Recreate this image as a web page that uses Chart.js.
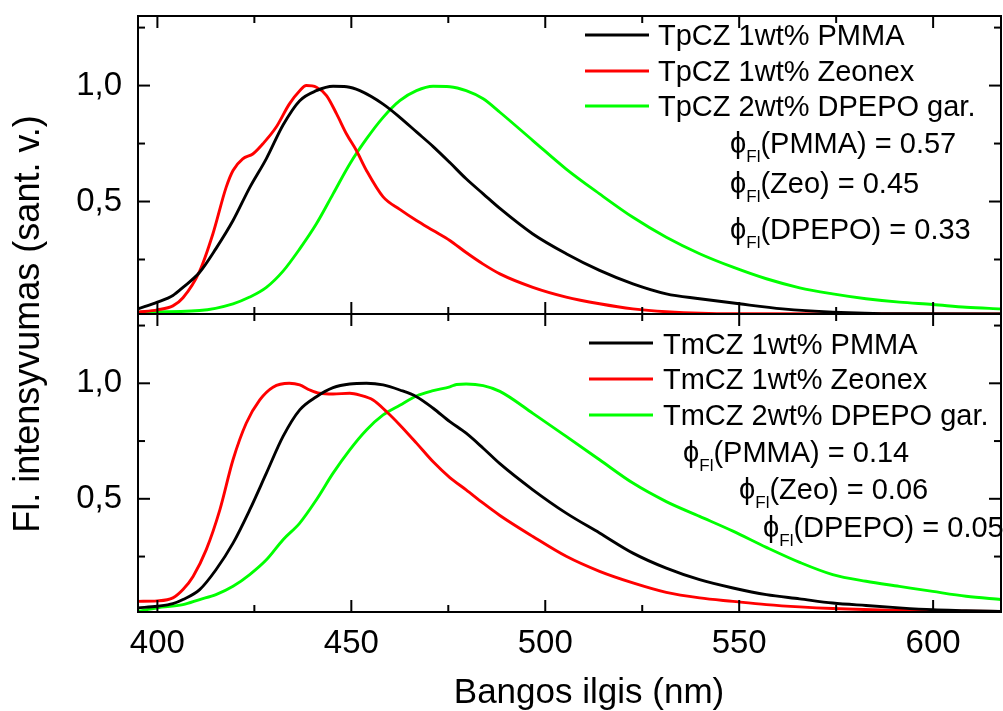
<!DOCTYPE html>
<html>
<head>
<meta charset="utf-8">
<script src="https://cdn.jsdelivr.net/npm/chart.js@4.4.1/dist/chart.umd.min.js"></script>
<style>
html,body{margin:0;padding:0;background:#fff;}
#wrap{position:relative;width:1003px;height:711px;}
</style>
</head>
<body>
<div id="wrap"><canvas id="c" width="1003" height="711"></canvas></div>
<script>
// ---- Data ----
// Top panel: TpCZ
const tpPmmaWl = [395,400,404,406.6,410.9,415.1,419.5,423.8,428.1,432.4,436.7,441,445.3,448.8,452.2,458.2,462.5,466.8,471.1,475.4,479.6,484,488.3,496.8,505.4,514,522.6,531.2,539.8,550,561.2,574.1,591.3,617.5];
const tpPmmaI  = [0.037,0.066,0.095,0.13,0.195,0.297,0.418,0.56,0.685,0.83,0.935,0.978,0.997,0.995,0.978,0.92,0.863,0.80,0.737,0.668,0.598,0.533,0.47,0.36,0.275,0.203,0.145,0.102,0.081,0.059,0.037,0.023,0.016,0.015];
const tpZeoWl  = [395,400,404,406.6,410.9,414.3,417.7,419.5,422,424.6,427.2,430.6,434,436.7,438.4,441,443.6,446.2,448.8,451.3,453.9,458.2,462.5,466.8,471.1,475.4,479.6,484,488.3,496.8,505.4,514,522.6,531.2,548.4,617.5];
const tpZeoI   = [0.023,0.033,0.05,0.085,0.2,0.36,0.56,0.634,0.684,0.705,0.749,0.82,0.92,0.978,1.0,0.993,0.957,0.878,0.79,0.72,0.634,0.52,0.466,0.418,0.375,0.332,0.28,0.23,0.188,0.13,0.088,0.059,0.037,0.025,0.016,0.015];
const tpDpWl   = [395,410.9,419.5,423.8,428.1,432.4,436.7,441,445.3,449.6,453.9,458.2,462.5,466.8,471.1,475.4,479.6,484,488.3,496.8,505.4,514,522.6,531.2,539.8,548.4,557,565.6,574.1,582.7,591.3,599.9,608.5,617.5];
const tpDpI    = [0.023,0.03,0.059,0.088,0.13,0.2,0.296,0.404,0.533,0.662,0.77,0.863,0.935,0.978,0.997,0.995,0.978,0.943,0.885,0.763,0.64,0.533,0.432,0.346,0.275,0.217,0.167,0.128,0.102,0.081,0.066,0.056,0.044,0.037];
// Bottom panel: TmCZ
const tmPmmaWl = [395,400,404,406.6,410.9,415.1,419.5,423.8,428.1,432.4,436.7,441,445.3,449.6,453.9,458.2,462.5,466.8,471.1,475.4,479.6,484,488.3,496.8,505.4,514,522.6,531.2,539.8,548.4,557,565.6,574.1,582.7,591.3,599.9,608.5,617.5];
const tmPmmaI  = [0.028,0.035,0.046,0.064,0.107,0.193,0.308,0.452,0.611,0.77,0.885,0.942,0.981,0.997,1.0,0.993,0.971,0.942,0.892,0.834,0.784,0.719,0.652,0.539,0.438,0.352,0.265,0.2,0.15,0.114,0.085,0.067,0.049,0.038,0.028,0.02,0.016,0.012];
const tmZeoWl  = [395,400,404,406.6,409.2,412.6,416.1,419.5,422.9,426.4,429.8,434,436.7,439.3,441.8,445.3,449.6,452.2,455.6,459.1,462.5,466.8,471.1,475.4,479.6,484,488.3,496.8,505.4,514,522.6,531.2,539.8,548.4,557,565.6,574.1,591.3,617.5];
const tmZeoI   = [0.056,0.058,0.071,0.107,0.164,0.28,0.452,0.669,0.827,0.928,0.983,1.0,0.993,0.971,0.957,0.954,0.957,0.949,0.928,0.877,0.82,0.741,0.66,0.592,0.539,0.481,0.428,0.337,0.251,0.186,0.136,0.095,0.071,0.056,0.042,0.032,0.025,0.017,0.012];
const tmDpWl   = [395,400,406.6,410.9,415.1,419.5,423.8,428.1,432.4,436.7,441,445.3,449.6,453.9,458.2,462.5,466.8,471.1,475.4,477.1,479.6,484,488.3,496.8,505.4,514,522.6,531.2,539.8,548.4,557,565.6,574.1,582.7,591.3,599.9,608.5,617.5];
const tmDpI    = [0.013,0.028,0.042,0.064,0.085,0.121,0.172,0.236,0.323,0.395,0.496,0.611,0.712,0.798,0.863,0.905,0.945,0.968,0.985,0.995,0.997,0.99,0.965,0.87,0.77,0.669,0.568,0.488,0.424,0.36,0.29,0.225,0.172,0.143,0.121,0.099,0.078,0.064];

const xMajor = [400,450,500,550,600];
const xMinor = [425,475,525,575];
const yMajor = [0.5,1.0];
const yMinor = [0.25,0.75,1.25];

const topLabels = ['TpCZ 1wt% PMMA','TpCZ 1wt% Zeonex','TpCZ 2wt% DPEPO gar.'];
const botLabels = ['TmCZ 1wt% PMMA','TmCZ 1wt% Zeonex','TmCZ 2wt% DPEPO gar.'];
const topPhi = [['PMMA','0.57'],['Zeo','0.45'],['DPEPO','0.33']];
const botPhi = [['PMMA','0.14'],['Zeo','0.06'],['DPEPO','0.05']];
const colors = ['#000000','#ff0000','#00ff00'];
const xTitle = 'Bangos ilgis (nm)';
const yTitle = 'Fl. intensyvumas (sant. v.)';

const FONT = '"Liberation Sans", Arial, sans-serif';
const pts = (wl, v) => wl.map((w, i) => ({x: w, y: v[i]}));

function ds(label, wl, v, color, axis) {
  return {label, data: pts(wl, v), borderColor: color, backgroundColor: color,
    borderWidth: 2.9, pointRadius: 0, cubicInterpolationMode: 'monotone', yAxisID: axis, fill: false};
}

const panelPlugin = {
  id: 'panels',
  afterDraw(chart) {
    const ctx = chart.ctx, x = chart.scales.x, area = chart.chartArea;
    ctx.save();
    ['yTop','yBot'].forEach(id => {
      const y = chart.scales[id];
      ctx.strokeStyle = '#000'; ctx.lineWidth = 2;
      ctx.strokeRect(area.left, y.top, area.right - area.left, y.bottom - y.top);
      const line = (x1,y1,x2,y2)=>{ctx.beginPath();ctx.moveTo(x1,y1);ctx.lineTo(x2,y2);ctx.stroke();};
      xMajor.forEach(v => { const p = x.getPixelForValue(v); line(p,y.top,p,y.top+12); line(p,y.bottom,p,y.bottom-12); });
      xMinor.forEach(v => { const p = x.getPixelForValue(v); line(p,y.top,p,y.top+7); line(p,y.bottom,p,y.bottom-7); });
      yMajor.forEach(v => { const p = y.getPixelForValue(v); line(area.left,p,area.left+12,p); line(area.right,p,area.right-12,p); });
      yMinor.forEach(v => { const p = y.getPixelForValue(v); line(area.left,p,area.left+7,p); line(area.right,p,area.right-7,p); });
    });
    // legends
    ctx.fillStyle = '#000';
    ctx.textBaseline = 'alphabetic'; ctx.textAlign = 'left';
    const drawLegend = (labels, lx1, lx2, tx, lineYs, baseYs) => {
      labels.forEach((t, i) => {
        ctx.strokeStyle = colors[i]; ctx.lineWidth = 3;
        ctx.beginPath(); ctx.moveTo(lx1, lineYs[i]); ctx.lineTo(lx2, lineYs[i]); ctx.stroke();
        ctx.font = '29px ' + FONT; ctx.fillText(t, tx, baseYs[i]);
      });
    };
    drawLegend(topLabels, 585, 649, 658, [35,71,106], [45,81,116]);
    drawLegend(botLabels, 589, 653, 663, [343,379,415], [354,389,425]);
    // phi annotations
    const drawPhi = (xp, base, name, val) => {
      ctx.font = '29px ' + FONT;
      ctx.fillText('\u03D5', xp, base);
      let w = ctx.measureText('\u03D5').width;
      ctx.font = '17px ' + FONT;
      ctx.fillText('Fl', xp + w, base + 9);
      w += ctx.measureText('Fl').width;
      ctx.font = '29px ' + FONT;
      ctx.fillText('(' + name + ') = ' + val, xp + w, base);
    };
    drawPhi(730, 153, topPhi[0][0], topPhi[0][1]);
    drawPhi(730, 193, topPhi[1][0], topPhi[1][1]);
    drawPhi(730, 239, topPhi[2][0], topPhi[2][1]);
    drawPhi(683, 462, botPhi[0][0], botPhi[0][1]);
    drawPhi(739, 499, botPhi[1][0], botPhi[1][1]);
    drawPhi(763, 537, botPhi[2][0], botPhi[2][1]);
    // axis titles
    ctx.font = '35px ' + FONT;
    ctx.textAlign = 'center';
    ctx.fillText(xTitle, 589, 703);
    ctx.save();
    ctx.translate(39, 324); ctx.rotate(-Math.PI/2);
    ctx.font = '36px ' + FONT;
    ctx.fillText(yTitle, 0, 0);
    ctx.restore();
    ctx.restore();
  }
};

const yCommon = {
  type: 'linear', position: 'left', stack: 'v', stackWeight: 1,
  min: 0.015, max: 1.30,
  grid: {display: false, drawTicks: false}, border: {display: false},
  afterFit: s => { s.width = 138; s.paddingTop = 0; s.paddingBottom = 0; },
  afterBuildTicks: s => { s.ticks = yMajor.map(v => ({value: v})); },
  ticks: {padding: 16, color: '#000', font: {family: FONT, size: 33},
    callback: v => Number(v).toFixed(1).replace('.', ',')}
};

new Chart(document.getElementById('c'), {
  type: 'line',
  data: {datasets: [
    ds(topLabels[0], tpPmmaWl, tpPmmaI, colors[0], 'yTop'),
    ds(topLabels[1], tpZeoWl, tpZeoI, colors[1], 'yTop'),
    ds(topLabels[2], tpDpWl, tpDpI, colors[2], 'yTop'),
    ds(botLabels[0], tmPmmaWl, tmPmmaI, colors[0], 'yBot'),
    ds(botLabels[1], tmZeoWl, tmZeoI, colors[1], 'yBot'),
    ds(botLabels[2], tmDpWl, tmDpI, colors[2], 'yBot')
  ]},
  options: {
    responsive: false, animation: false, devicePixelRatio: 1,
    layout: {padding: {top: 16, right: 2, left: 0, bottom: 0}},
    plugins: {legend: {display: false}, tooltip: {enabled: false}},
    scales: {
      x: {type: 'linear', position: 'bottom', min: 395, max: 617.5,
        grid: {display: false, drawTicks: false}, border: {display: false},
        afterFit: s => { s.height = 99; s.paddingLeft = 0; s.paddingRight = 0; },
        afterBuildTicks: s => { s.ticks = xMajor.map(v => ({value: v})); },
        ticks: {autoSkip: false, maxRotation: 0, padding: 12, color: '#000', font: {family: FONT, size: 33},
          callback: v => String(v)}},
      yBot: Object.assign({}, yCommon, {min: 0.01}),
      yTop: Object.assign({}, yCommon)
    }
  },
  plugins: [panelPlugin]
});
</script>
</body>
</html>
